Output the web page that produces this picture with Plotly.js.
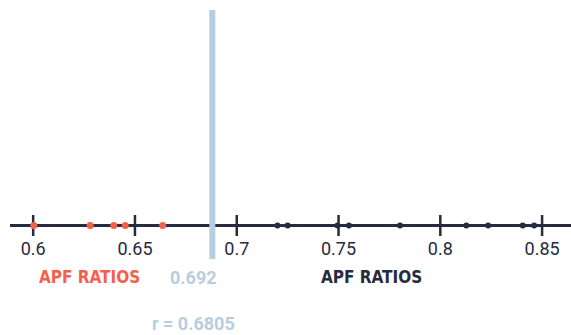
<!DOCTYPE html>
<html>
<head>
<meta charset="utf-8">
<script src="https://cdn.plot.ly/plotly-3.0.1.min.js"></script>
<style>html,body{margin:0;padding:0;background:#fff;}#chart{width:571px;height:335px;}</style>
</head>
<body>
<div id="chart"></div>
<script>
// Data
const redRatios = [0.6003, 0.628, 0.6396, 0.6452, 0.6636];
const darkRatios = [0.720, 0.725, 0.7495, 0.7551, 0.7802, 0.8128, 0.8235, 0.8405, 0.8461];
const tickValues = [0.6, 0.65, 0.7, 0.75, 0.8, 0.85];
const tickLabels = ['0.6', '0.65', '0.7', '0.75', '0.8', '0.85'];
const thresholdLine = 0.688;
const thresholdLabel = '0.692';
const correlationLabel = 'r = 0.6805';
const groupLabels = ['APF RATIOS', 'APF RATIOS'];

const navy = '#262b40';
const red = '#f4604a';
const lightBlue = '#b7cde0';
const condensed = '"DejaVu Sans Condensed", "Liberation Sans Narrow", sans-serif';

const traces = [
  {
    x: tickValues, y: tickValues.map(() => 0), mode: 'markers', hoverinfo: 'skip',
    marker: {symbol: 'line-ns-open', size: 15, color: navy, line: {color: navy, width: 2.5}}
  },
  {
    x: redRatios, y: redRatios.map(() => 0), mode: 'markers',
    marker: {color: red, size: 7}
  },
  {
    x: darkRatios, y: darkRatios.map(() => 0), mode: 'markers',
    marker: {color: navy, size: 6}
  }
];

const layout = {
  width: 571, height: 335,
  margin: {l: 0, r: 0, t: 0, b: 0},
  paper_bgcolor: '#fff', plot_bgcolor: '#fff',
  showlegend: false,
  xaxis: {
    range: [0.5837, 0.8642], anchor: 'free', position: 1 - 225.5/335,
    showgrid: false, zeroline: false, showline: false,
    tickvals: tickValues, ticktext: tickLabels, ticks: '',
    ticklabelstandoff: 10,
    tickfont: {family: 'Roboto, sans-serif', size: 18, color: navy}
  },
  yaxis: {range: [-1, 2.059], visible: false, fixedrange: true},
  shapes: [
    {type: 'line', xref: 'paper', yref: 'y', x0: 10/571, x1: 1, y0: 0, y1: 0,
     line: {color: navy, width: 3}, layer: 'below'},
    {type: 'line', xref: 'x', yref: 'paper', x0: thresholdLine, x1: thresholdLine,
     y0: 1 - 10/335, y1: 1 - 259/335, line: {color: lightBlue, width: 6}, layer: 'above'}
  ],
  annotations: [
    {xref: 'paper', yref: 'paper', x: 89/571, y: 1 - 277/335, text: '<b>' + groupLabels[0] + '</b>', showarrow: false,
     font: {family: condensed, size: 17, color: red}, xanchor: 'center', yanchor: 'middle'},
    {xref: 'paper', yref: 'paper', x: 371/571, y: 1 - 277/335, text: '<b>' + groupLabels[1] + '</b>', showarrow: false,
     font: {family: condensed, size: 17, color: navy}, xanchor: 'center', yanchor: 'middle'},
    {xref: 'paper', yref: 'paper', x: 193/571, y: 1 - 277/335, text: '<b>' + thresholdLabel + '</b>', showarrow: false,
     font: {family: 'Roboto, sans-serif', size: 18, color: lightBlue}, xanchor: 'center', yanchor: 'middle'},
    {xref: 'paper', yref: 'paper', x: 193/571, y: 1 - 323/335, text: '<b>' + correlationLabel + '</b>', showarrow: false,
     font: {family: 'Roboto, sans-serif', size: 18, color: lightBlue}, xanchor: 'center', yanchor: 'middle'}
  ]
};

Plotly.newPlot('chart', traces, layout, {displayModeBar: false, staticPlot: true});
</script>
</body>
</html>
